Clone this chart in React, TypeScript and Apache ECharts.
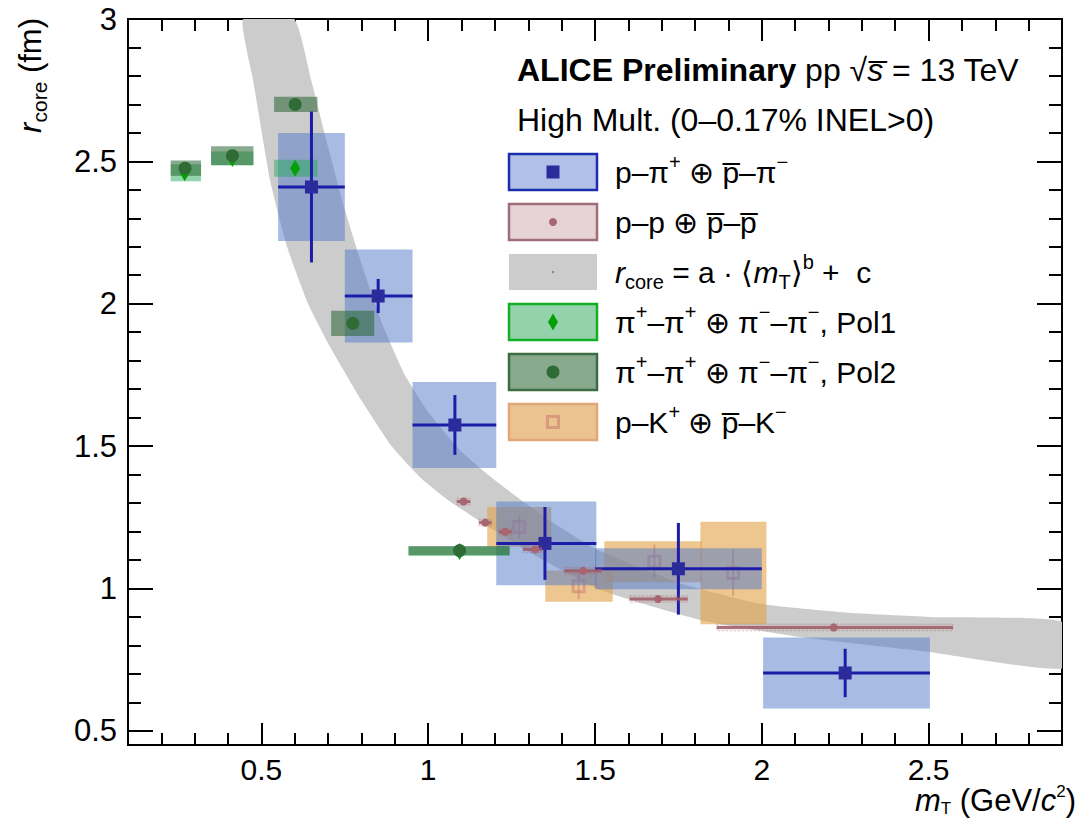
import React, { useEffect, useRef } from 'react';
import * as echarts from 'echarts';

const FONT = "'Liberation Sans', Arial, Helvetica, sans-serif";

// axis ticks
const xMajorTicks = [0.5, 1, 1.5, 2, 2.5];
const xMinorTicks = [0.2, 0.3, 0.4, 0.6, 0.7, 0.8, 0.9, 1.1, 1.2, 1.3, 1.4, 1.6, 1.7, 1.8, 1.9, 2.1, 2.2, 2.3, 2.4, 2.6, 2.7, 2.8];
const yMajorTicks = [0.5, 1, 1.5, 2, 2.5, 3];
const yMinorTicks = [0.6, 0.7, 0.8, 0.9, 1.1, 1.2, 1.3, 1.4, 1.6, 1.7, 1.8, 1.9, 2.1, 2.2, 2.3, 2.4, 2.6, 2.7, 2.8, 2.9];
const X_MIN = 0.1, X_MAX = 2.9, Y_MIN = 0.45, Y_MAX = 3;

// p–π
const ppiX = [0.65, 0.85, 1.08, 1.35, 1.75, 2.25];
const ppiY = [2.41, 2.027, 1.574, 1.158, 1.069, 0.703];
const ppiXLo = [0.55, 0.75, 0.953, 1.204, 1.5, 2.004];
const ppiXHi = [0.75, 0.953, 1.204, 1.504, 2.0, 2.504];
const ppiStat = [0.265, 0.06, 0.105, 0.128, 0.161, 0.085];
const ppiSys = [0.19, 0.163, 0.151, 0.147, 0.072, 0.125];

// p–p
const ppX = [1.106, 1.171, 1.231, 1.321, 1.464, 1.689, 2.216];
const ppY = [1.305, 1.231, 1.199, 1.137, 1.062, 0.963, 0.863];
const ppXLo = [1.086, 1.152, 1.212, 1.284, 1.408, 1.604, 1.865];
const ppXHi = [1.126, 1.19, 1.25, 1.341, 1.521, 1.778, 2.573];
const ppStat = [0.008, 0.008, 0.008, 0.008, 0.008, 0.008, 0.008];
const ppSys = [0.012, 0.012, 0.012, 0.012, 0.012, 0.012, 0.012];

// p–K
const pkX = [1.273, 1.451, 1.678, 1.914];
const pkY = [1.216, 1.008, 1.094, 1.054];
const pkXLo = [1.177, 1.351, 1.528, 1.816];
const pkXHi = [1.369, 1.553, 1.821, 2.014];
const pkStat = [0.04, 0.045, 0.06, 0.08];
const pkSys = [0.07, 0.055, 0.072, 0.18];

// π–π Pol1
const pol1X = [0.27, 0.413, 0.601, 1.094];
const pol1Y = [2.46, 2.51, 2.476, 1.13];
const pol1XLo = [0.228, 0.349, 0.538, 0.941];
const pol1XHi = [0.319, 0.476, 0.668, 1.244];
const pol1Sys = [0.03, 0.025, 0.03, 0.016];

// π–π Pol2
const pol2X = [0.271, 0.413, 0.601, 0.774, 1.094];
const pol2Y = [2.476, 2.52, 2.70, 1.931, 1.133];
const pol2XLo = [0.228, 0.349, 0.538, 0.709, 0.941];
const pol2XHi = [0.319, 0.476, 0.668, 0.838, 1.244];
const pol2Sys = [0.027, 0.033, 0.027, 0.044, 0.016];

// fit band edges [mT, r]
const bandUpper = [[0.598, 3.0], [0.649, 2.786], [0.70, 2.55], [0.745, 2.35], [0.80, 2.14], [0.862, 1.93], [0.93, 1.75], [1.0, 1.62], [1.1, 1.48], [1.2, 1.38], [1.35, 1.25], [1.5, 1.14], [1.75, 1.02], [2.0, 0.945], [2.25, 0.915], [2.5, 0.9], [2.9, 0.883]];
const bandLower = [[0.445, 3.0], [0.475, 2.786], [0.526, 2.434], [0.577, 2.199], [0.64, 2.0], [0.706, 1.848], [0.80, 1.66], [0.89, 1.50], [0.976, 1.39], [1.06, 1.31], [1.156, 1.235], [1.3, 1.13], [1.516, 0.994], [1.816, 0.889], [2.116, 0.829], [2.5, 0.777], [2.9, 0.719]];

const C = {
  blueBox: 'rgba(80,120,200,0.5)', blueLine: '#1c1ca8', blueMarker: '#2b2b9c',
  ppLine: 'rgba(160,90,100,0.85)', ppMarker: '#a86670',
  pkBox: 'rgba(225,160,70,0.6)', pkLine: 'rgba(190,110,100,0.45)', pkMarker: 'rgba(205,125,115,0.55)',
  pol1Box: 'rgba(40,170,90,0.5)', pol1Marker: '#06a006',
  pol2Box: 'rgba(40,100,50,0.55)', pol2Marker: '#2e6b35',
  band: '#cccccc',
};

type MarkerFn = (cx: number, cy: number) => any;
const squareMarker = (fill: string, s: number): MarkerFn => (cx, cy) => ({ type: 'rect', shape: { x: cx - s / 2, y: cy - s / 2, width: s, height: s }, style: { fill } });
const circleMarker = (fill: string, r: number): MarkerFn => (cx, cy) => ({ type: 'circle', shape: { cx, cy, r }, style: { fill } });
const diamondMarker = (fill: string, w: number, h: number): MarkerFn => (cx, cy) => ({ type: 'polygon', shape: { points: [[cx, cy - h / 2], [cx + w / 2, cy], [cx, cy + h / 2], [cx - w / 2, cy]] }, style: { fill } });
const openSquareMarker = (stroke: string, s: number): MarkerFn => (cx, cy) => ({ type: 'rect', shape: { x: cx - s / 2, y: cy - s / 2, width: s, height: s }, style: { fill: 'none', stroke, lineWidth: 3 } });

function boxSeries(name: string, xs: number[], ys: number[], lo: number[], hi: number[], sys: number[], style: any) {
  return {
    type: 'custom', name, silent: true,
    data: xs.map((x, i) => [x, ys[i], lo[i], hi[i], sys[i]]),
    encode: { x: 0, y: 1 },
    renderItem: (_p: any, api: any) => {
      const y = api.value(1), s = api.value(4);
      const a = api.coord([api.value(2), y + s]);
      const b = api.coord([api.value(3), y - s]);
      return { type: 'rect', shape: { x: a[0], y: a[1], width: b[0] - a[0], height: b[1] - a[1] }, style };
    },
  };
}

function pointSeries(name: string, xs: number[], ys: number[], lo: number[], hi: number[], stat: number[], stroke: string, lineWidth: number, marker: MarkerFn) {
  return {
    type: 'custom', name, silent: true,
    data: xs.map((x, i) => [x, ys[i], lo[i], hi[i], stat[i]]),
    encode: { x: 0, y: 1 },
    renderItem: (_p: any, api: any) => {
      const x = api.value(0), y = api.value(1), s = api.value(4);
      const c = api.coord([x, y]);
      const l = api.coord([api.value(2), y]);
      const r = api.coord([api.value(3), y]);
      const t = api.coord([x, y + s]);
      const b = api.coord([x, y - s]);
      const children: any[] = [];
      if (r[0] - l[0] > 0.5) children.push({ type: 'line', shape: { x1: l[0], y1: c[1], x2: r[0], y2: c[1] }, style: { stroke, lineWidth } });
      if (b[1] - t[1] > 0.5) children.push({ type: 'line', shape: { x1: c[0], y1: t[1], x2: c[0], y2: b[1] }, style: { stroke, lineWidth } });
      children.push(marker(c[0], c[1]));
      return { type: 'group', children };
    },
  };
}

const bandSeries = {
  type: 'custom', name: 'fit', silent: true, clip: true,
  data: [[1, 1]],
  encode: { x: 0, y: 1 },
  renderItem: (_p: any, api: any) => {
    const pts = bandUpper.map((p) => api.coord(p)).concat(bandLower.slice().reverse().map((p) => api.coord(p)));
    return { type: 'polygon', shape: { points: pts, smooth: 0.15 }, style: { fill: C.band } };
  },
};

const axisLineStyle = { color: '#000', width: 2 };
function xAxisDef(position: string, major: boolean, labels: boolean) {
  return {
    type: 'value', min: X_MIN, max: X_MAX, position,
    axisLine: { show: true, onZero: false, lineStyle: axisLineStyle },
    axisTick: { show: true, inside: true, length: major ? 22 : 12, customValues: major ? xMajorTicks : xMinorTicks, lineStyle: axisLineStyle },
    axisLabel: labels ? { show: true, customValues: xMajorTicks, color: '#000', fontSize: 30, fontFamily: FONT, margin: 11, lineHeight: 26 } : { show: false },
    splitLine: { show: false },
  };
}
function yAxisDef(position: string, major: boolean, labels: boolean) {
  return {
    type: 'value', min: Y_MIN, max: Y_MAX, position,
    axisLine: { show: true, onZero: false, lineStyle: axisLineStyle },
    axisTick: { show: true, inside: true, length: major ? 25 : 13, customValues: major ? yMajorTicks : yMinorTicks, lineStyle: axisLineStyle },
    axisLabel: labels ? { show: true, customValues: yMajorTicks, color: '#000', fontSize: 31, fontFamily: FONT, margin: 11 } : { show: false },
    splitLine: { show: false },
  };
}

function makeRich(fs: number, lh: number, small: number) {
  return {
    i: { fontStyle: 'italic', fontSize: fs, fontFamily: FONT, fill: '#000', lineHeight: lh },
    b: { fontWeight: 'bold', fontSize: fs, fontFamily: FONT, fill: '#000', lineHeight: lh },
    sub: { fontSize: small, fontFamily: FONT, fill: '#000', lineHeight: small, verticalAlign: 'bottom' },
    sup: { fontSize: small, fontFamily: FONT, fill: '#000', lineHeight: small, verticalAlign: 'top' },
  };
}

function txt(x: number, y: number, text: string, fs: number, extra: any = {}) {
  const align = extra.align || 'left';
  const lh = extra.lh || 40;
  const small = extra.small || Math.round(fs * 0.68);
  return {
    type: 'text', x, y, silent: true, rotation: extra.rotation || 0,
    style: {
      text, rich: makeRich(fs, lh, small), fontSize: fs, fontFamily: FONT, fill: '#000', lineHeight: lh,
      align, verticalAlign: 'middle', textAlign: align, textVerticalAlign: 'middle',
    },
  };
}

const legendItems = [
  { text: 'p–π{sup|+} ⊕ p̅–π{sup|−}', fill: '#b0c0e6', stroke: '#1d2db0', marker: squareMarker('#2b2b9c', 13) },
  { text: 'p–p ⊕ p̅–p̅', fill: '#e6d3d6', stroke: '#a06e78', marker: circleMarker('#a86670', 4) },
  { text: '{i|r}{sub|core} = a · ⟨{i|m}{sub|T}⟩{sup|b} +  c', fill: '#cccccc', stroke: null, marker: circleMarker('#888', 1.2) },
  { text: 'π{sup|+}–π{sup|+} ⊕ π{sup|−}–π{sup|−}, Pol1', fill: '#93d2aa', stroke: '#14b024', marker: diamondMarker('#06a006', 10, 17) },
  { text: 'π{sup|+}–π{sup|+} ⊕ π{sup|−}–π{sup|−}, Pol2', fill: '#89a98f', stroke: '#3a6e40', marker: circleMarker('#2e6b35', 6.5) },
  { text: 'p–K{sup|+} ⊕ p̅–K{sup|−}', fill: '#ebc38f', stroke: '#e0a878', marker: openSquareMarker('rgba(205,125,115,0.6)', 11) },
];

function buildGraphic() {
  const els: any[] = [];
  els.push(txt(517, 70, '{b|ALICE Preliminary} pp √{i|s̅} = 13 TeV', 32));
  els.push(txt(517, 120, 'High Mult. (0–0.17% INEL>0)', 32));
  legendItems.forEach((it, k) => {
    const cy = 172 + k * 50;
    els.push({ type: 'rect', silent: true, shape: { x: 509, y: cy - 18, width: 88, height: 36 }, style: { fill: it.fill, stroke: it.stroke || 'none', lineWidth: it.stroke ? 2.5 : 0 } });
    els.push(it.marker(553, cy));
    els.push(txt(615, cy, it.text, 30));
  });
  els.push(txt(30, 18, '{i|r}{sub|core} (fm)', 31, { rotation: Math.PI / 2, align: 'right' }));
  els.push(txt(1076, 800, '{i|m}{sub|T} (GeV/{i|c}{sup|2})', 31, { align: 'right', lh: 34, small: 17 }));
  return els;
}

export default function App() {
  const ref = useRef<HTMLDivElement>(null);
  useEffect(() => {
    const chart = echarts.init(ref.current as HTMLDivElement, null, { renderer: 'svg' });
    const option: any = {
      animation: false,
      backgroundColor: '#ffffff',
      grid: { left: 128, right: 19, top: 19, bottom: 73, containLabel: false },
      xAxis: [xAxisDef('bottom', true, true), xAxisDef('bottom', false, false), xAxisDef('top', true, false), xAxisDef('top', false, false)],
      yAxis: [yAxisDef('left', true, true), yAxisDef('left', false, false), yAxisDef('right', true, false), yAxisDef('right', false, false)],
      series: [
        bandSeries,
        boxSeries('pK sys', pkX, pkY, pkXLo, pkXHi, pkSys, { fill: C.pkBox }),
        pointSeries('pK', pkX, pkY, pkX, pkX, pkStat, C.pkLine, 2, openSquareMarker(C.pkMarker, 11)),
        boxSeries('ppi sys', ppiX, ppiY, ppiXLo, ppiXHi, ppiSys, { fill: C.blueBox }),
        boxSeries('pol1 sys', pol1X, pol1Y, pol1XLo, pol1XHi, pol1Sys, { fill: C.pol1Box }),
        boxSeries('pol2 sys', pol2X, pol2Y, pol2XLo, pol2XHi, pol2Sys, { fill: C.pol2Box }),
        pointSeries('ppi', ppiX, ppiY, ppiXLo, ppiXHi, ppiStat, C.blueLine, 3, squareMarker(C.blueMarker, 13)),
        pointSeries('pol1', pol1X, pol1Y, pol1X, pol1X, pol1Sys.map(() => 0), C.pol1Marker, 2, diamondMarker(C.pol1Marker, 10, 17)),
        pointSeries('pol2', pol2X, pol2Y, pol2X, pol2X, pol2Sys.map(() => 0), C.pol2Marker, 2, circleMarker(C.pol2Marker, 6.5)),
        boxSeries('pp sys', ppX, ppY, ppXLo, ppXHi, ppSys, { fill: 'rgba(170,100,110,0.12)', stroke: 'rgba(170,100,110,0.35)', lineWidth: 1, lineDash: [2, 2] }),
        pointSeries('pp', ppX, ppY, ppXLo, ppXHi, ppStat, C.ppLine, 3, circleMarker(C.ppMarker, 4)),
      ],
      graphic: buildGraphic(),
    };
    chart.setOption(option);
    return () => chart.dispose();
  }, []);
  return <div ref={ref} style={{ position: 'fixed', left: 0, top: 0, width: 1081, height: 818, background: '#fff' }} />;
}
